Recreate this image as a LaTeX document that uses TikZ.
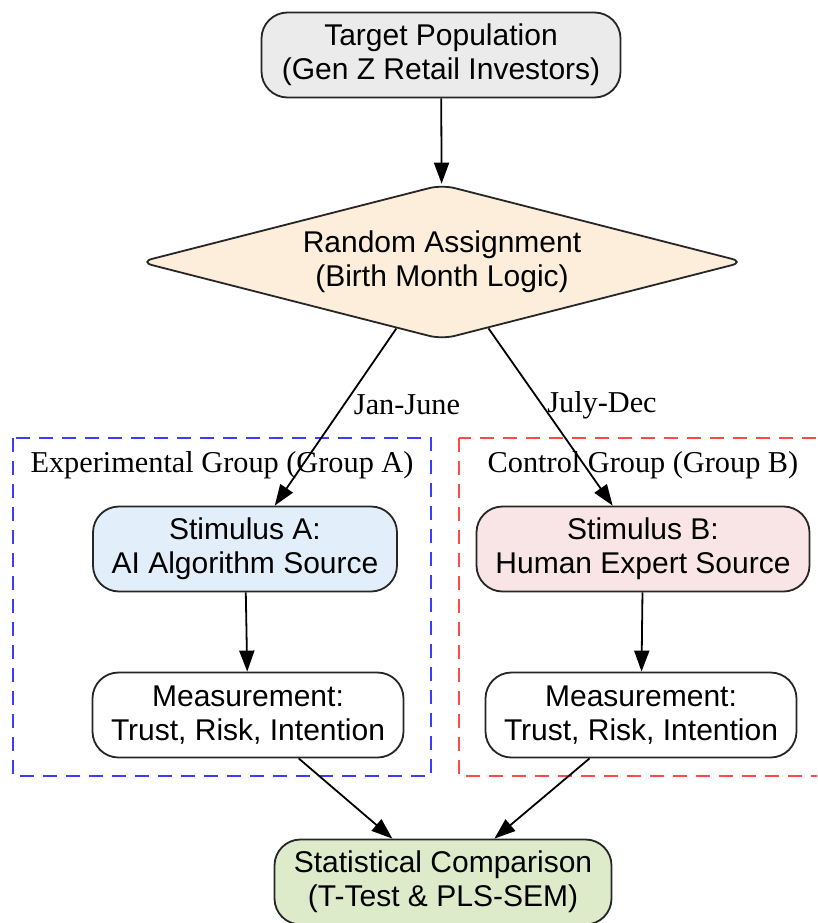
\documentclass[tikz,border=0pt]{standalone}
\usepackage{fontspec}
\setmainfont{Liberation Serif}
\newfontfamily\nodefont{Liberation Sans}
\usetikzlibrary{shapes.geometric,arrows.meta}
\definecolor{tgtfill}{HTML}{EBEBEB}
\definecolor{diafill}{HTML}{FCEEDB}
\definecolor{safill}{HTML}{E2EFFA}
\definecolor{sbfill}{HTML}{F9E5E5}
\definecolor{statfill}{HTML}{DDEBCB}
\definecolor{cblue}{HTML}{3C3CFF}
\definecolor{cred}{HTML}{FF4A4A}
\tikzset{
  box/.style={draw=black!85, line width=1.8pt, rounded corners=26pt, align=center,
    inner sep=0pt, minimum height=85pt, font=\nodefont\fontsize{30}{34}\selectfont},
  dia/.style={draw=black!85, line width=1.8pt, shape=diamond, aspect=3.9, rounded corners=13pt,
    align=center, inner sep=0pt, minimum width=605pt, minimum height=155pt,
    font=\nodefont\fontsize{30}{34}\selectfont},
  edge/.style={draw=black, line width=1.8pt, -{Triangle[length=21pt,width=15pt]}},
  lbl/.style={font=\fontsize{30.3}{34}\selectfont, inner sep=0pt},
  clusterline/.style={line width=2.7pt, dash pattern=on 14pt off 9pt}
}
\begin{document}
\begin{tikzpicture}[x=1pt,y=-1pt]
\useasboundingbox (0,0) rectangle (817,923);
\clip (0,0) rectangle (817,923);
\fill[white] (0,0) rectangle (817,923);
% clusters
\draw[clusterline, cblue] (13,438) rectangle (431,776);
\draw[clusterline, cred] (459,438) rectangle (840,776);
\node[lbl] (labA) at (222,465) {Experimental Group (Group A)};
\node[lbl] (labB) at (643,465) {Control Group (Group B)};
% nodes
\node[box, fill=tgtfill, minimum width=359pt] (tgt) at (441,55) {Target Population\\(Gen Z Retail Investors)};
\node[dia, fill=diafill] (ra) at (442,262) {Random Assignment\\(Birth Month Logic)};
\node[box, fill=safill, minimum width=304pt] (sa) at (245,549) {Stimulus A:\\AI Algorithm Source};
\node[box, fill=white, minimum width=311pt] (ma) at (248,715) {Measurement:\\Trust, Risk, Intention};
\node[box, fill=sbfill, minimum width=333pt] (sb) at (643,549) {Stimulus B:\\Human Expert Source};
\node[box, fill=white, minimum width=311pt] (mb) at (641,715) {Measurement:\\Trust, Risk, Intention};
\node[box, fill=statfill, minimum width=337pt] (st) at (443,882) {Statistical Comparison\\(T-Test \& PLS-SEM)};
% edge labels
\node[lbl] (lj) at (407,405) {Jan-June};
\node[lbl] (ld) at (602,405) {July-Dec};
% edges
\draw[edge] (tgt) -- (ra);
\draw[edge] (ra) -- (sa);
\draw[edge] (ra) -- (sb);
\draw[edge] (sa) -- (ma);
\draw[edge] (sb) -- (mb);
\draw[edge] (ma) -- (st);
\draw[edge] (mb) -- (st);
\end{tikzpicture}
\end{document}
